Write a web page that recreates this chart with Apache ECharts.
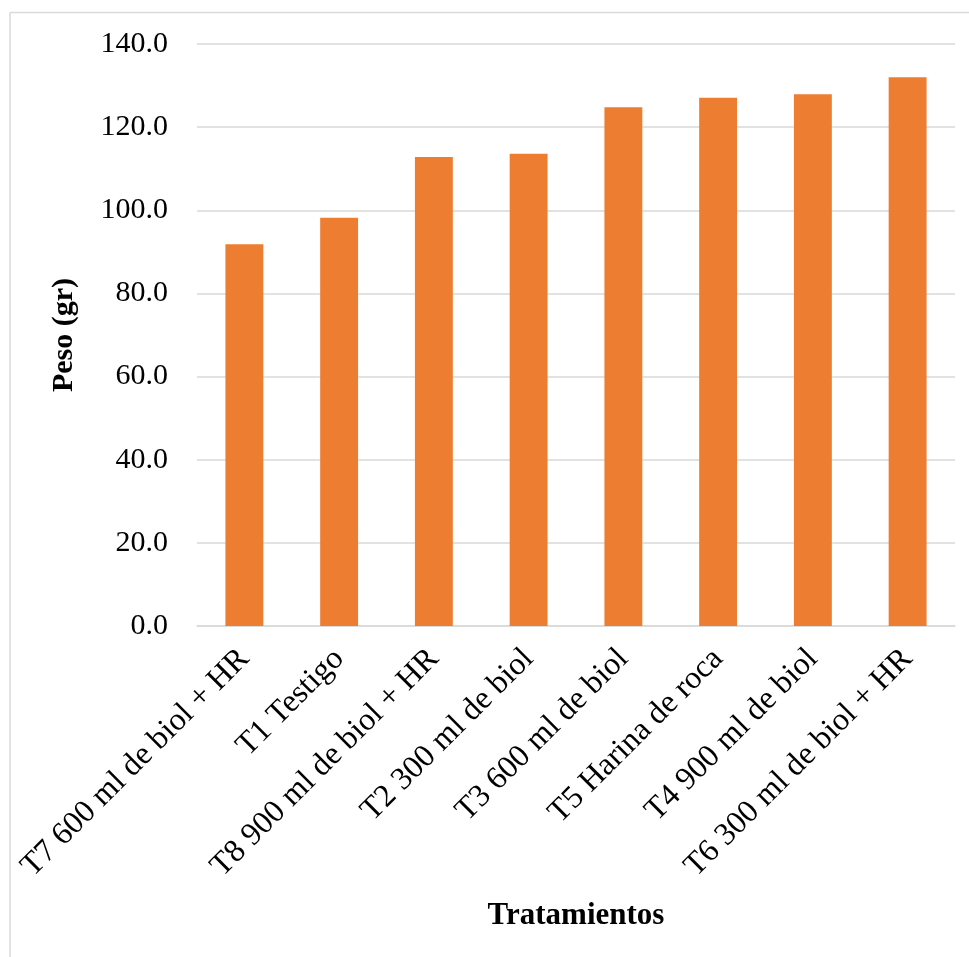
<!DOCTYPE html>
<html>
<head>
<meta charset="utf-8">
<script src="https://cdn.jsdelivr.net/npm/echarts@6/dist/echarts.min.js"></script>
<style>
  html, body { margin: 0; padding: 0; background: #ffffff; }
  #chart { width: 969px; height: 957px; }
</style>
</head>
<body>
<div id="chart"></div>
<script>
// Treatments and mean weight (gr)
const categories = [
  'T7 600 ml de biol + HR',
  'T1 Testigo',
  'T8 900 ml de biol + HR',
  'T2 300 ml de biol',
  'T3 600 ml de biol',
  'T5 Harina de roca',
  'T4 900 ml de biol',
  'T6 300 ml de biol + HR'
];
const pesoValues = [91.8, 98.2, 112.8, 113.6, 124.8, 127.1, 127.9, 132.0];
const yTicks = { min: 0, max: 140, interval: 20 };

const serif = '"Liberation Serif", "Times New Roman", serif';
const chart = echarts.init(document.getElementById('chart'), null, { renderer: 'canvas' });

chart.setOption({
  backgroundColor: '#ffffff',
  animation: false,
  graphic: [
    { type: 'line', shape: { x1: 10, y1: 12.5, x2: 969, y2: 12.5 }, style: { stroke: '#d9d9d9', lineWidth: 1.5 } },
    { type: 'line', shape: { x1: 10, y1: 12.5, x2: 10, y2: 957 }, style: { stroke: '#d9d9d9', lineWidth: 1.5 } }
  ],
  grid: { left: 197, right: 14, top: 44, bottom: 331, containLabel: false },
  xAxis: {
    type: 'category',
    data: categories,
    name: 'Tratamientos',
    nameLocation: 'middle',
    nameGap: 274,
    nameTextStyle: { fontFamily: serif, fontSize: 31, fontWeight: 'bold', color: '#000' },
    axisLine: { lineStyle: { color: '#d9d9d9', width: 1.5 } },
    axisTick: { show: false },
    axisLabel: { rotate: 45, margin: 28, interval: 0, fontFamily: serif, fontSize: 32, color: '#000' }
  },
  yAxis: {
    type: 'value',
    min: yTicks.min,
    max: yTicks.max,
    interval: yTicks.interval,
    name: 'Peso (gr)',
    nameLocation: 'middle',
    nameGap: 118,
    nameTextStyle: { fontFamily: serif, fontSize: 30, fontWeight: 'bold', color: '#000' },
    axisLine: { show: false },
    axisTick: { show: false },
    splitLine: { lineStyle: { color: '#d9d9d9', width: 1.5 } },
    axisLabel: {
      margin: 29,
      fontFamily: serif, fontSize: 30, color: '#000',
      formatter: v => v.toFixed(1)
    }
  },
  series: [{
    type: 'bar',
    data: pesoValues,
    barWidth: '40%',
    itemStyle: { color: '#ED7D31' }
  }]
});
</script>
</body>
</html>
